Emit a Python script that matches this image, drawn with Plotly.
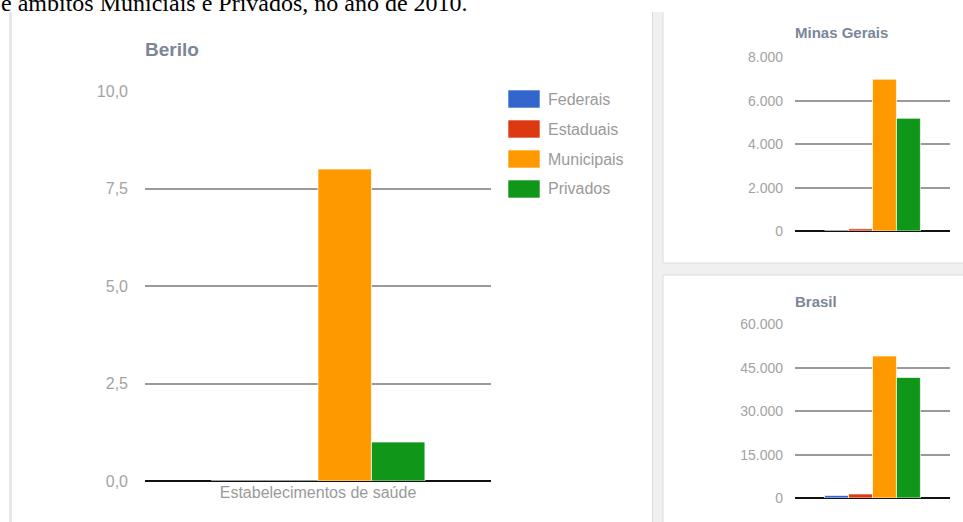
import plotly.graph_objects as go

W, H = 963, 522

# ---- data ----
category = ["Estabelecimentos de saúde"]
series_names = ["Federais", "Estaduais", "Municipais", "Privados"]
series_colors = ["#3366cc", "#dc3912", "#ff9900", "#109618"]
berilo_values = [0, 0, 8, 1]
minas_values = [5, 100, 7000, 5200]
brasil_values = [900, 1400, 49100, 41700]

berilo_ticks = [0, 2.5, 5, 7.5, 10]
berilo_ticktext = ["0,0", "2,5", "5,0", "7,5", "10,0"]
minas_ticks = [0, 2000, 4000, 6000, 8000]
minas_ticktext = ["0", "2.000", "4.000", "6.000", "8.000"]
brasil_ticks = [0, 15000, 30000, 45000, 60000]
brasil_ticktext = ["0", "15.000", "30.000", "45.000", "60.000"]

FONT = "Liberation Sans, Arial, sans-serif"
TICK_COLOR = "#a3a3a3"
TITLE_COLOR = "#7b8699"


def px(x):
    return x / W


def py(y):
    return 1 - y / H


fig = go.Figure()

panels = [("x", "y", berilo_values), ("x2", "y2", minas_values), ("x3", "y3", brasil_values)]
for xa, ya, vals in panels:
    for name, color, v in zip(series_names, series_colors, vals):
        fig.add_trace(go.Bar(
            x=category, y=[v], name=name, xaxis=xa, yaxis=ya,
            marker=dict(color=color, line=dict(color="rgba(255,255,255,0.7)", width=1)),
            showlegend=False, hoverinfo="skip",
        ))

grid = dict(showgrid=True, gridcolor="#9a9a9a", gridwidth=1.6,
            zeroline=True, zerolinecolor="#111111", zerolinewidth=2,
            showline=False, ticks="", fixedrange=True)

fig.update_layout(
    width=W, height=H,
    margin=dict(l=0, r=0, t=0, b=0, autoexpand=False),
    paper_bgcolor="white", plot_bgcolor="white",
    barmode="group", bargap=0.382, bargroupgap=0.0,
    showlegend=False,
    font=dict(family=FONT, color=TICK_COLOR),
    xaxis=dict(domain=[px(145), px(491)], anchor="y", showgrid=False, ticks="",
               tickfont=dict(size=16, color="#9a9a9a"), fixedrange=True),
    yaxis=dict(domain=[py(481), py(91)], anchor="x", range=[0, 10],
               tickvals=berilo_ticks, ticktext=berilo_ticktext,
               tickfont=dict(size=16, color=TICK_COLOR), ticklabelstandoff=16, **grid),
    xaxis2=dict(domain=[px(795), px(950)], anchor="y2", showgrid=False,
                showticklabels=False, ticks="", fixedrange=True),
    yaxis2=dict(domain=[py(231), py(57.5)], anchor="x2", range=[0, 8000],
                tickvals=minas_ticks, ticktext=minas_ticktext,
                tickfont=dict(size=14, color=TICK_COLOR), ticklabelstandoff=11, **grid),
    xaxis3=dict(domain=[px(795), px(950)], anchor="y3", showgrid=False,
                showticklabels=False, ticks="", fixedrange=True),
    yaxis3=dict(domain=[py(498), py(324.5)], anchor="x3", range=[0, 60000],
                tickvals=brasil_ticks, ticktext=brasil_ticktext,
                tickfont=dict(size=14, color=TICK_COLOR), ticklabelstandoff=11, **grid),
)

shapes = []
# panel borders / separators
shapes.append(dict(type="rect", xref="paper", yref="paper", x0=px(9), x1=px(12),
                   y0=py(522), y1=py(12), fillcolor="#e8e8e8", line=dict(width=0), layer="below"))
shapes.append(dict(type="rect", xref="paper", yref="paper", x0=px(652), x1=px(663),
                   y0=py(522), y1=py(12), fillcolor="#f0f0f0", line=dict(width=0), layer="below"))
shapes.append(dict(type="rect", xref="paper", yref="paper", x0=px(663), x1=px(963),
                   y0=py(275), y1=py(263), fillcolor="#f0f0f0", line=dict(width=0), layer="below"))
edge = dict(color="#dcdcdc", width=1)
for (x0, y0, x1, y1) in [(652.5, 12, 652.5, 522), (663, 12, 663, 263), (663, 275, 663, 522),
                         (663, 263, 963, 263), (663, 275, 963, 275)]:
    shapes.append(dict(type="line", xref="paper", yref="paper", x0=px(x0), x1=px(x1),
                       y0=py(y0), y1=py(y1), line=edge, layer="below"))

annotations = []
# legend
for i, (name, color) in enumerate(zip(series_names, series_colors)):
    cy = 99 + 30 * i
    shapes.append(dict(type="rect", xref="paper", yref="paper", x0=px(508), x1=px(540),
                       y0=py(cy + 9), y1=py(cy - 9), fillcolor=color,
                       line=dict(color="rgba(255,255,255,0.6)", width=1)))
    annotations.append(dict(xref="paper", yref="paper", x=px(546), y=py(cy), text=name,
                            showarrow=False, xanchor="left", yanchor="middle",
                            font=dict(family=FONT, size=16, color="#9a9a9a")))

# panel titles
for text, x, y, size in [("Berilo", 145, 49, 19), ("Minas Gerais", 795, 33, 15), ("Brasil", 795, 301, 15)]:
    annotations.append(dict(xref="paper", yref="paper", x=px(x), y=py(y), text="<b>" + text + "</b>",
                            showarrow=False, xanchor="left", yanchor="middle", xshift=-2,
                            font=dict(family=FONT, size=size, color=TITLE_COLOR)))

# cut-off document text at top
annotations.append(dict(xref="paper", yref="paper", x=px(-1), y=py(18),
                        text="e âmbitos Municiais e Privados, no ano de 2010.",
                        showarrow=False, xanchor="left", yanchor="bottom",
                        font=dict(family="Liberation Serif, Times New Roman, serif", size=24, color="black")))

fig.update_layout(shapes=shapes, annotations=annotations)

post = ("document.documentElement.style.margin='0';document.documentElement.style.overflow='hidden';"
        "document.body.style.margin='0';document.body.style.overflow='hidden';"
        "var d=document.getElementById('{plot_id}');d.style.position='fixed';"
        "d.style.left='0px';d.style.top='0px';")

fig.write_html("out.html", post_script=post, config={"displayModeBar": False})
